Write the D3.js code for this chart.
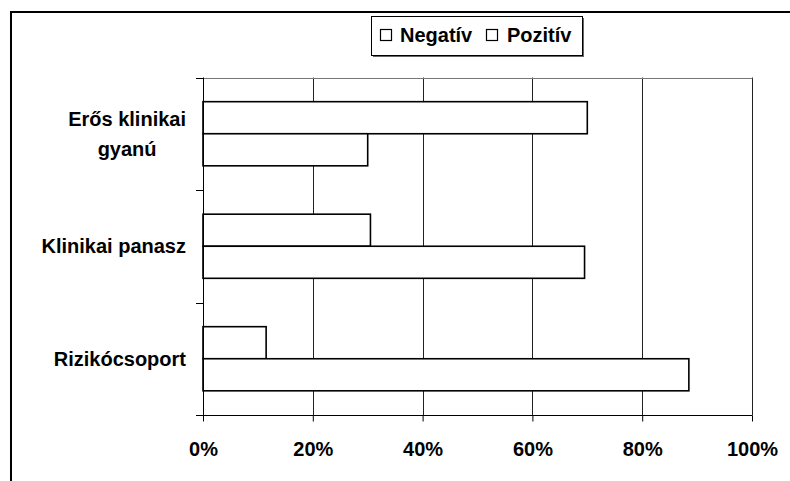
<!DOCTYPE html>
<html>
<head>
<meta charset="utf-8">
<script src="https://cdn.jsdelivr.net/npm/d3@7/dist/d3.min.js"></script>
<style>
  html, body { margin: 0; padding: 0; background: #fff; }
  svg { display: block; }
  text { font-family: "Liberation Sans", Arial, Helvetica, sans-serif; font-weight: bold; fill: #000; }
</style>
</head>
<body>
<svg id="chart" width="790" height="481"></svg>
<script>
// Category labels (line breaks marked with \n), series and values in percent
const categories = ["Erős klinikai\ngyanú", "Klinikai panasz", "Rizikócsoport"];
const seriesNames = ["Negatív", "Pozitív"];
const negativ = [70, 30.5, 11.5];
const pozitiv = [30, 69.5, 88.5];
const xTickValues = [0, 20, 40, 60, 80, 100];

const rows = categories.map((c, i) => ({ cat: c, values: [negativ[i], pozitiv[i]] }));

const svg = d3.select("#chart");
const W = 790, H = 481;
const plot = { left: 203, right: 752, top: 77.5, bottom: 415 };

svg.append("rect").attr("width", W).attr("height", H).attr("fill", "#fff");

// outer chart frame
svg.append("rect")
  .attr("x", 11).attr("y", 12)
  .attr("width", 900).attr("height", 600)
  .attr("fill", "none").attr("stroke", "#000").attr("stroke-width", 2);

const x = d3.scaleLinear().domain([0, 100]).range([plot.left, plot.right]);
const y = d3.scaleBand().domain(categories).range([plot.top, plot.bottom])
  .paddingInner(0.43).paddingOuter(0.215);
const ySub = d3.scaleBand().domain(seriesNames).range([0, y.bandwidth()]);

const crisp = v => Math.round(v) + 0.5;

// vertical gridlines
svg.append("g").selectAll("line")
  .data(xTickValues.filter(d => d > 0))
  .join("line")
  .attr("x1", d => crisp(x(d))).attr("x2", d => crisp(x(d)))
  .attr("y1", plot.top).attr("y2", plot.bottom)
  .attr("stroke", "#222").attr("stroke-width", 1);

// plot area top edge
svg.append("line")
  .attr("x1", plot.left).attr("x2", crisp(plot.right))
  .attr("y1", crisp(plot.top)).attr("y2", crisp(plot.top))
  .attr("stroke", "#777").attr("stroke-width", 1);

// bars
const groups = svg.append("g").selectAll("g")
  .data(rows).join("g")
  .attr("transform", d => `translate(0,${y(d.cat)})`);

groups.selectAll("rect")
  .data(d => d.values.map((v, i) => ({ s: seriesNames[i], v })))
  .join("rect")
  .attr("x", x(0))
  .attr("y", d => ySub(d.s))
  .attr("width", d => x(d.v) - x(0))
  .attr("height", ySub.bandwidth())
  .attr("fill", "#fff")
  .attr("stroke", "#000")
  .attr("stroke-width", 1.6);

// x axis
const xAxis = d3.axisBottom(x).tickValues(xTickValues).tickFormat(d => d + "%").tickSize(6).tickPadding(20);
const gx = svg.append("g").attr("transform", `translate(0,${crisp(plot.bottom)})`).call(xAxis);
gx.select(".domain").remove();
gx.selectAll(".tick line").attr("stroke", "#000");
gx.selectAll(".tick text").attr("font-size", 20).attr("dy", 0).attr("y", 40)
  .style("font-family", "'Liberation Sans', Arial, sans-serif").style("font-weight", "bold");
svg.append("line")
  .attr("x1", 196).attr("x2", crisp(plot.right))
  .attr("y1", crisp(plot.bottom)).attr("y2", crisp(plot.bottom))
  .attr("stroke", "#000").attr("stroke-width", 1);

// y axis line and category boundary ticks
svg.append("line")
  .attr("x1", crisp(plot.left)).attr("x2", crisp(plot.left))
  .attr("y1", plot.top).attr("y2", plot.bottom)
  .attr("stroke", "#000").attr("stroke-width", 1);
const step = y.step();
const boundaries = d3.range(categories.length + 1).map(i => plot.top + i * (plot.bottom - plot.top) / categories.length);
svg.append("g").selectAll("line").data(boundaries).join("line")
  .attr("x1", 196).attr("x2", plot.left)
  .attr("y1", d => crisp(d)).attr("y2", d => crisp(d))
  .attr("stroke", "#000").attr("stroke-width", 1);

// category labels: lines centred on each other, block right-aligned
const labelRight = 186, lineH = 30;
rows.forEach(r => {
  const lines = r.cat.split("\n");
  const cy = y(r.cat) + y.bandwidth() / 2;
  const t = svg.append("text").attr("font-size", 20).attr("text-anchor", "middle");
  const spans = lines.map((ln, i) => t.append("tspan").text(ln));
  const maxW = d3.max(spans, s => s.node().getComputedTextLength());
  const cx = labelRight - maxW / 2;
  const firstBase = cy + 7 - (lines.length - 1) * lineH / 2;
  spans.forEach((s, i) => s.attr("x", cx).attr("y", firstBase + i * lineH));
});

// legend
const lg = svg.append("g");
lg.append("rect").attr("x", 373).attr("y", 18).attr("width", 211).attr("height", 39).attr("fill", "#666");
lg.append("rect").attr("x", 371.5).attr("y", 16.5).attr("width", 211).attr("height", 39)
  .attr("fill", "#fff").attr("stroke", "#000").attr("stroke-width", 1);
const legendItems = [
  { name: seriesNames[0], mx: 380.5, tx: 400 },
  { name: seriesNames[1], mx: 486.5, tx: 507 }
];
legendItems.forEach(it => {
  lg.append("rect").attr("x", it.mx).attr("y", 29.5).attr("width", 11).attr("height", 11)
    .attr("fill", "#fff").attr("stroke", "#000").attr("stroke-width", 1.2);
  lg.append("text").attr("x", it.tx).attr("y", 41.5).attr("font-size", 20).text(it.name);
});
</script>
</body>
</html>
